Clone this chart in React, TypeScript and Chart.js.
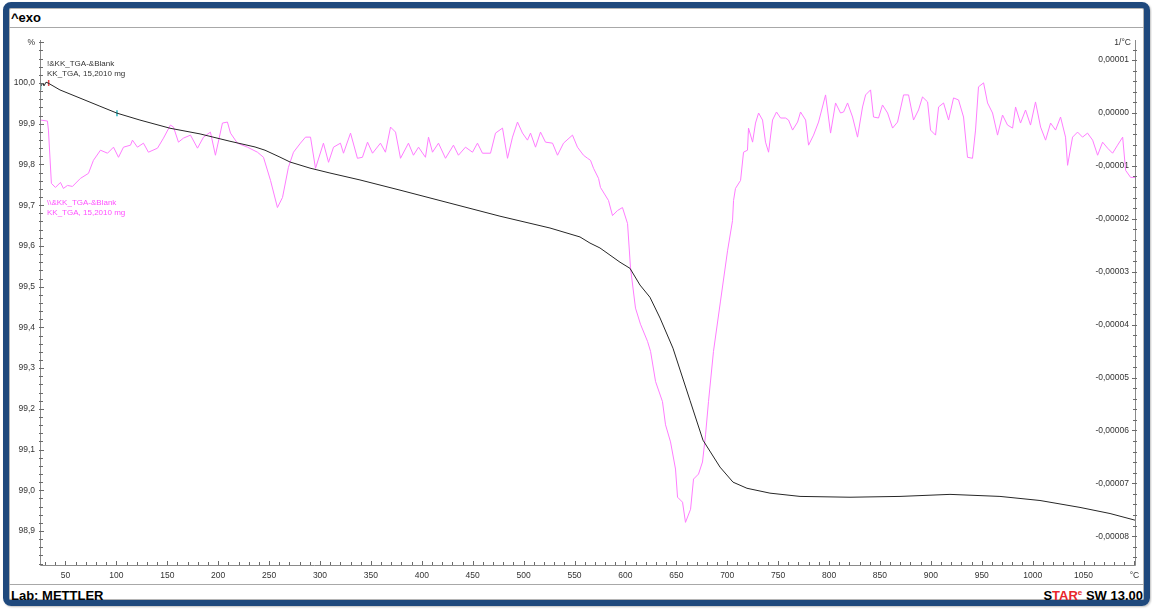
import React, { useEffect, useRef } from 'react';
import { Chart, registerables } from 'chart.js';

Chart.register(...registerables);

// TGA curve: temperature (°C) and relative mass (%)
const tgaTemp = [
  26.0, 27.9, 28.9, 30.9, 32.9, 44.6, 64.3, 83.9, 100.6, 123.2, 152.7, 182.2, 211.6, 236.2, 246.0,
  260.7, 270.6, 290.2, 309.8, 339.3, 378.6, 427.7, 476.8, 525.9, 555.4, 565.2, 575.0, 594.7, 604.5,
  614.3, 624.1, 634.0, 646.7, 663.4, 676.2, 692.9, 705.7, 719.4, 742.0, 771.5, 820.6, 869.7, 918.8,
  967.9, 1007.2, 1046.5, 1076.0, 1101.5,
];
const tgaMass = [
  99.993, 100.0, 99.993, 100.002, 100.0, 99.983, 99.963, 99.943, 99.926, 99.909, 99.889, 99.875, 99.857,
  99.843, 99.835, 99.818, 99.806, 99.791, 99.779, 99.762, 99.737, 99.705, 99.673, 99.644, 99.622, 99.607,
  99.595, 99.56, 99.545, 99.504, 99.474, 99.423, 99.349, 99.221, 99.123, 99.057, 99.02, 99.005, 98.993,
  98.985, 98.983, 98.985, 98.99, 98.985, 98.975, 98.958, 98.943, 98.926,
];

// DTG curve: temperature (°C) and rate in units of 1e-5 1/°C
const dtgTemp = [
  25.4, 32.3, 33.3, 36.2, 40.2, 45.1, 48.0, 52.0, 56.9, 64.7, 72.6, 77.5, 84.4, 91.3, 97.2, 102.1,
  107.0, 113.9, 115.8, 120.7, 126.6, 131.5, 140.4, 146.3, 153.1, 156.1, 161.0, 165.9, 172.8, 179.7,
  185.6, 192.4, 197.3, 204.2, 209.1, 212.1, 218.9, 228.8, 238.6, 244.5, 251.4, 258.2, 263.2, 269.0,
  274.0, 280.8, 285.8, 290.7, 295.6, 303.4, 308.4, 313.3, 320.1, 323.1, 330.0, 336.8, 341.7, 346.7,
  351.6, 359.4, 364.3, 369.3, 374.2, 379.1, 386.9, 391.8, 396.8, 403.6, 406.6, 410.5, 416.4, 423.3,
  431.1, 436.0, 442.9, 449.8, 454.7, 459.6, 467.5, 472.4, 479.3, 484.2, 489.1, 494.0, 498.9, 503.8,
  506.8, 511.7, 516.6, 521.5, 528.4, 533.3, 539.2, 548.0, 552.9, 558.8, 562.8, 565.7, 568.7, 573.6,
  575.5, 583.4, 587.3, 592.2, 597.1, 602.1, 605.0, 609.9, 614.8, 621.7, 624.7, 629.6, 636.4, 639.4,
  644.3, 649.2, 651.2, 656.1, 659.0, 664.0, 666.9, 671.8, 675.7, 678.7, 681.6, 686.5, 693.4, 700.3,
  705.2, 706.2, 708.1, 713.1, 716.0, 719.9, 720.9, 724.9, 727.8, 730.8, 734.7, 737.6, 740.6, 744.5,
  748.4, 752.4, 757.3, 760.2, 764.2, 769.1, 772.0, 777.0, 779.9, 784.8, 789.7, 796.6, 801.5, 806.4,
  811.3, 814.3, 818.2, 823.1, 828.0, 832.9, 835.9, 840.8, 843.7, 848.6, 852.5, 857.5, 862.4, 867.3,
  873.2, 878.1, 883.0, 887.9, 891.8, 896.8, 899.7, 904.6, 907.6, 912.5, 917.4, 922.3, 927.2, 932.1,
  936.0, 940.9, 943.9, 946.8, 951.8, 955.7, 960.6, 965.5, 970.4, 975.3, 980.3, 983.2, 988.1, 993.0,
  997.9, 1002.8, 1007.8, 1012.7, 1017.6, 1022.5, 1027.4, 1032.3, 1034.3, 1039.2, 1044.1, 1049.0,
  1053.9, 1058.9, 1063.8, 1068.7, 1073.6, 1078.5, 1083.4, 1088.4, 1091.3, 1096.2, 1101.5,
];
const dtgRate = [
  -0.133, -0.152, -0.323, -1.331, -1.407, -1.312, -1.426, -1.369, -1.388, -1.236, -1.141, -0.894,
  -0.703, -0.76, -0.646, -0.837, -0.646, -0.608, -0.513, -0.646, -0.57, -0.741, -0.665, -0.475, -0.228,
  -0.266, -0.551, -0.475, -0.418, -0.665, -0.456, -0.361, -0.798, -0.19, -0.171, -0.38, -0.57, -0.646,
  -0.741, -0.837, -1.274, -1.787, -1.597, -1.027, -0.741, -0.57, -0.456, -0.456, -1.046, -0.57, -0.932,
  -0.646, -0.57, -0.76, -0.38, -0.856, -0.837, -0.551, -0.76, -0.57, -0.741, -0.266, -0.361, -0.856,
  -0.57, -0.798, -0.646, -0.837, -0.456, -0.741, -0.57, -0.856, -0.608, -0.798, -0.646, -0.741, -0.57,
  -0.76, -0.76, -0.38, -0.285, -0.856, -0.456, -0.171, -0.38, -0.513, -0.38, -0.646, -0.361, -0.551,
  -0.57, -0.798, -0.57, -0.418, -0.646, -0.798, -0.856, -0.894, -1.046, -1.236, -1.407, -1.654, -1.939,
  -1.844, -1.787, -2.091, -2.928, -3.688, -3.992, -4.316, -4.506, -5.076, -5.456, -5.894, -6.217,
  -6.73, -7.262, -7.357, -7.738, -7.49, -6.92, -6.825, -6.597, -6.084, -5.456, -4.506, -3.555, -2.605,
  -2.034, -1.654, -1.426, -1.274, -0.741, -0.703, -0.285, -0.551, -0.19, 0.0, -0.133, -0.551, -0.741,
  -0.133, 0.019, -0.095, -0.095, -0.133, -0.323, -0.171, 0.019, -0.133, -0.608, -0.418, -0.171, 0.342,
  -0.38, 0.19, 0.0, 0.019, 0.19, -0.076, -0.456, 0.114, 0.342, 0.437, -0.076, -0.095, 0.152, 0.0,
  -0.285, -0.171, 0.342, 0.342, -0.133, 0.057, 0.304, 0.209, -0.323, -0.418, 0.114, 0.19, -0.133,
  0.285, 0.247, -0.076, -0.837, -0.856, -0.323, 0.494, 0.57, 0.19, 0.0, -0.418, -0.038, -0.228,
  -0.285, 0.114, -0.19, 0.057, -0.228, 0.209, -0.266, -0.513, -0.19, -0.323, -0.076, -0.456, -0.989,
  -0.456, -0.361, -0.456, -0.38, -0.513, -0.798, -0.551, -0.665, -0.76, -0.608, -0.456, -1.084,
  -1.217, -1.217,
];

// Evaluation markers on the TGA curve
const markerTemp = [25.6, 33.5, 100.6];
const markerMass = [99.99, 100.0, 99.926];
const markerColors = ['#2fb8c0', '#e8454a', '#2fb8c0'];

// Tick grids: x every 10 °C, left every 0.02 %, right every 2e-6 1/°C
const xTickValues: number[] = [];
for (let k = 3; k <= 110; k++) xTickValues.push(k * 10);
const yTickSteps: number[] = [];
for (let k = 4941; k <= 5005; k++) yTickSteps.push(k);
const y1TickSteps: number[] = [];
for (let k = -42; k <= 6; k++) y1TickSteps.push(k);

const fontFamily = "'Liberation Sans', Arial, sans-serif";
const tickFont = { family: fontFamily, size: 8.5 };
const tickColor = '#333333';
const tgaColor = '#262626';
const dtgColor = '#ff7cff';
const dtgTextColor = '#ff50ff';

const axesPlugin = {
  id: 'mettlerAxes',
  afterDraw(chart: any) {
    const { ctx, chartArea: a, scales } = chart;
    ctx.save();
    ctx.strokeStyle = '#8a8a8a';
    ctx.lineWidth = 1;
    ctx.beginPath();
    ctx.moveTo(a.left + 0.5, a.top);
    ctx.lineTo(a.left + 0.5, a.bottom + 0.5);
    ctx.lineTo(a.right - 0.5, a.bottom + 0.5);
    ctx.lineTo(a.right - 0.5, a.top);
    ctx.stroke();

    ctx.strokeStyle = '#6a6a6a';
    ctx.beginPath();
    scales.x.ticks.forEach((t: any) => {
      const p = Math.round(scales.x.getPixelForValue(t.value)) + 0.5;
      const len = t.label ? 4 : 3;
      ctx.moveTo(p, a.bottom);
      ctx.lineTo(p, a.bottom - len);
    });
    scales.y.ticks.forEach((t: any) => {
      const p = Math.round(scales.y.getPixelForValue(t.value)) + 0.5;
      const len = t.label ? 4 : 3;
      ctx.moveTo(a.left - 1, p);
      ctx.lineTo(a.left + len, p);
    });
    scales.y1.ticks.forEach((t: any) => {
      const p = Math.round(scales.y1.getPixelForValue(t.value)) + 0.5;
      const len = t.label ? 4 : 3;
      ctx.moveTo(a.right + 1, p);
      ctx.lineTo(a.right - len, p);
    });
    ctx.stroke();

    ctx.font = `8.5px ${fontFamily}`;
    ctx.textBaseline = 'middle';
    ctx.textAlign = 'right';
    ctx.fillStyle = tickColor;
    ctx.fillText('1/°C', a.right - 5, a.top + 3);

    ctx.textAlign = 'left';
    ctx.font = `8px ${fontFamily}`;
    ctx.fillStyle = '#333333';
    ctx.fillText('!&KK_TGA-&Blank', a.left + 7, a.top + 24);
    ctx.fillText('KK_TGA, 15,2010 mg', a.left + 7, a.top + 34);
    ctx.fillStyle = dtgTextColor;
    ctx.fillText('\\\\&KK_TGA-&Blank', a.left + 7, a.top + 163);
    ctx.fillText('KK_TGA, 15,2010 mg', a.left + 7, a.top + 173);
    ctx.restore();
  },
};

function ThermoChart() {
  const canvasRef = useRef<HTMLCanvasElement | null>(null);

  useEffect(() => {
    const canvas = canvasRef.current;
    if (!canvas) return;
    const chart = new Chart(canvas, {
      type: 'line',
      data: {
        datasets: [
          {
            label: 'TGA',
            data: tgaTemp.map((t, i) => ({ x: t, y: tgaMass[i] })),
            borderColor: tgaColor,
            borderWidth: 1,
            pointRadius: 0,
            yAxisID: 'y',
          },
          {
            label: 'Markers',
            data: markerTemp.map((t, i) => ({ x: t, y: markerMass[i] })),
            showLine: false,
            pointStyle: 'line',
            rotation: 90,
            pointRadius: 3,
            pointBorderWidth: 1.5,
            pointBorderColor: markerColors,
            yAxisID: 'y',
          },
          {
            label: 'DTG',
            data: dtgTemp.map((t, i) => ({ x: t, y: dtgRate[i] * 1e-5 })),
            borderColor: dtgColor,
            borderWidth: 1,
            pointRadius: 0,
            yAxisID: 'y1',
          },
        ],
      },
      options: {
        animation: false,
        responsive: false,
        devicePixelRatio: 1,
        layout: { padding: { top: 40, left: 0, right: 0, bottom: 0 } },
        plugins: { legend: { display: false }, tooltip: { enabled: false } },
        scales: {
          x: {
            type: 'linear',
            min: 25,
            max: 1101.5,
            grid: { display: false, drawTicks: false, tickLength: 0 },
            border: { display: false },
            afterBuildTicks: (s: any) => {
              s.ticks = xTickValues.map((v) => ({ value: v }));
            },
            afterFit: (s: any) => {
              s.height = 44;
            },
            ticks: {
              autoSkip: false,
              maxRotation: 0,
              padding: 6,
              font: tickFont,
              color: tickColor,
              callback: (v: any) => {
                const n = Math.round(Number(v));
                if (n === 1100) return '°C';
                return n % 50 === 0 ? String(n) : '';
              },
            },
          },
          y: {
            type: 'linear',
            position: 'left',
            min: 98.8166,
            max: 100.1056,
            grid: { display: false, drawTicks: false, tickLength: 0 },
            border: { display: false },
            afterBuildTicks: (s: any) => {
              s.ticks = yTickSteps.map((k) => ({ value: k * 0.02 }));
            },
            afterFit: (s: any) => {
              s.width = 40;
            },
            ticks: {
              autoSkip: false,
              padding: 5,
              font: tickFont,
              color: tickColor,
              callback: (v: any) => {
                const k = Math.round(Number(v) * 50);
                if (k % 5 !== 0) return '';
                if (k === 5005) return '%';
                return (k / 50).toFixed(1).replace('.', ',');
              },
            },
          },
          y1: {
            type: 'linear',
            position: 'right',
            min: -8.544e-5,
            max: 1.38e-5,
            grid: { display: false, drawTicks: false, tickLength: 0 },
            border: { display: false },
            afterBuildTicks: (s: any) => {
              s.ticks = y1TickSteps.map((k) => ({ value: k * 2e-6 }));
            },
            afterFit: (s: any) => {
              s.width = 16;
            },
            ticks: {
              autoSkip: false,
              mirror: true,
              padding: -7,
              font: tickFont,
              color: tickColor,
              callback: (v: any) => {
                const k = Math.round(Number(v) / 2e-6);
                if (k % 5 !== 0) return '';
                const s = ((k / 5) * 1e-5).toFixed(5).replace('.', ',');
                return s === '-0,00000' ? '0,00000' : s;
              },
            },
          },
        },
      },
      plugins: [axesPlugin],
    });
    return () => chart.destroy();
  }, []);

  return (
    <canvas
      ref={canvasRef}
      width={1152}
      height={609}
      style={{ position: 'absolute', left: 0, top: 0, width: 1152, height: 609 }}
    />
  );
}

export default function App() {
  const bold = `bold 13px ${fontFamily}`;
  return (
    <div
      style={{
        position: 'fixed',
        left: 0,
        top: 0,
        width: 1152,
        height: 609,
        background: '#ffffff',
        overflow: 'hidden',
      }}
    >
      <div
        style={{
          position: 'absolute',
          left: 3,
          top: 2,
          width: 1147,
          height: 604,
          boxSizing: 'border-box',
          border: '6px solid #1f497d',
          borderRadius: 8,
          boxShadow: 'inset 0 0 0 1px #b4b4b4, 1px 1px 2px rgba(0,0,0,0.25)',
        }}
      />
      <div style={{ position: 'absolute', left: 9, top: 27, width: 1135, height: 1, background: '#a8a8a8' }} />
      <div style={{ position: 'absolute', left: 9, top: 584, width: 1135, height: 1, background: '#a8a8a8' }} />
      <div style={{ position: 'absolute', left: 11, top: 10, font: bold, lineHeight: '15px', color: '#000' }}>^exo</div>
      <div style={{ position: 'absolute', left: 11, top: 588, font: bold, lineHeight: '15px', color: '#000' }}>
        Lab: METTLER
      </div>
      <div
        style={{
          position: 'absolute',
          right: 9,
          top: 588,
          font: bold,
          lineHeight: '15px',
          color: '#000',
          whiteSpace: 'nowrap',
        }}
      >
        S<span style={{ color: '#e8262b' }}>TAR</span>
        <sup style={{ color: '#e8262b', fontSize: 8, verticalAlign: 'top', lineHeight: '10px' }}>e</sup> SW 13.00
      </div>
      <ThermoChart />
    </div>
  );
}
